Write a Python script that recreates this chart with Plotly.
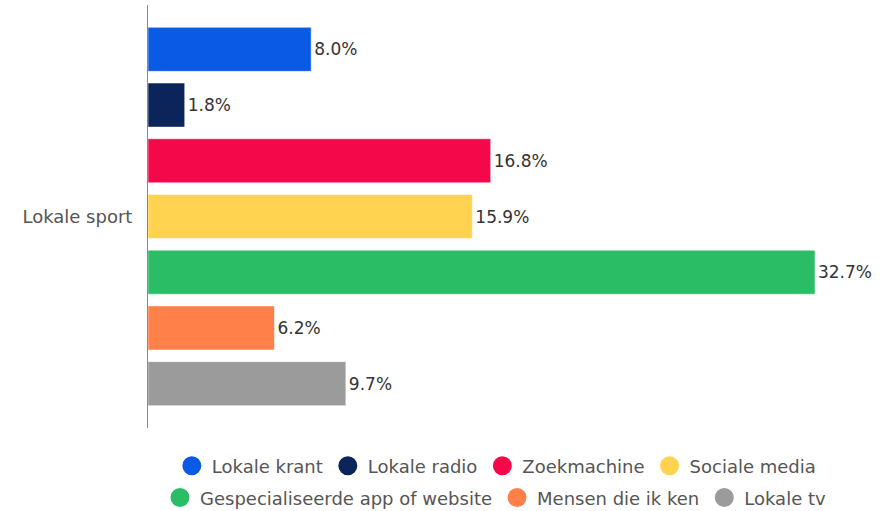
import plotly.graph_objects as go

category = ["Lokale sport"]
series_names = ["Lokale krant", "Lokale radio", "Zoekmachine", "Sociale media",
                "Gespecialiseerde app of website", "Mensen die ik ken", "Lokale tv"]
values = [8.0, 1.8, 16.8, 15.9, 32.7, 6.2, 9.7]
colors = ["#0a5ae6", "#0b2459", "#f5084a", "#ffd34f", "#2bbd66", "#ff8049", "#9b9b9b"]

FONT = "DejaVu Sans"
fig = go.Figure()
for i, (name, v, c) in enumerate(zip(series_names, values, colors)):
    fig.add_trace(go.Bar(
        y=category, x=[v], orientation="h", name=name,
        marker=dict(color=c, line=dict(color="rgba(255,255,255,0.5)", width=1)),
        text=[f"{v:.1f}%"], textposition="outside", cliponaxis=False,
        textfont=dict(family=FONT, size=17, color="#333333"),
        showlegend=False, hoverinfo="skip",
    ))
    fig.add_trace(go.Scatter(
        x=[None], y=[None], mode="markers", name=name,
        marker=dict(symbol="circle", size=16, color=c, line=dict(color=c, width=3)),
        showlegend=True, legend="legend" if i < 4 else "legend2",
    ))

fig.update_layout(
    width=888, height=511,
    margin=dict(l=148, r=20, t=5, b=83, autoexpand=False),
    plot_bgcolor="white", paper_bgcolor="white",
    barmode="group", bargap=0.078, bargroupgap=0.21,
    font=dict(family=FONT, size=17, color="#555555"),
    xaxis=dict(range=[0, 35.3], showgrid=False, zeroline=False, showline=False,
               showticklabels=False, ticks=""),
    yaxis=dict(autorange="reversed", showline=True, linecolor="#888888", linewidth=1,
               showgrid=False, ticks="", ticklabelstandoff=11,
               tickfont=dict(family=FONT, size=18, color="#555555")),
    legend=dict(orientation="h", x=0.4838, xanchor="center", y=-0.0898, yanchor="middle",
                font=dict(family=FONT, size=18, color="#555555"), bgcolor="rgba(0,0,0,0)"),
    legend2=dict(orientation="h", x=0.4833, xanchor="center", y=-0.165, yanchor="middle",
                 font=dict(family=FONT, size=18, color="#555555"), bgcolor="rgba(0,0,0,0)"),
)

fig.write_html("out.html", config={"displayModeBar": False},
               post_script="document.body.style.margin='0';")
